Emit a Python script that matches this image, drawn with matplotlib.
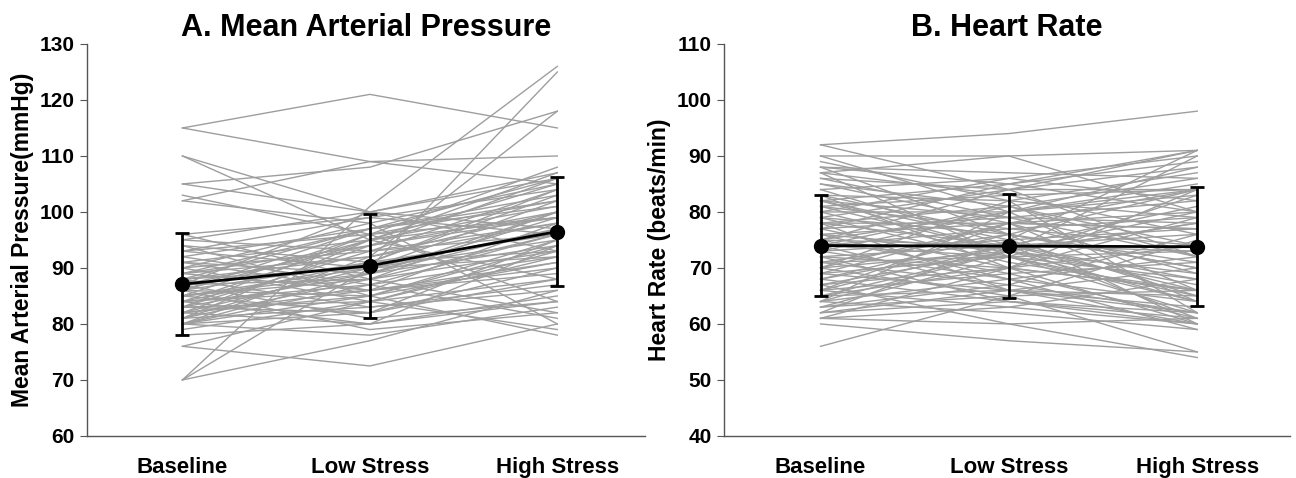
import numpy as np
import matplotlib.pyplot as plt

plt.rcParams['font.family'] = ['Liberation Sans Narrow', 'Liberation Sans', 'DejaVu Sans']
plt.rcParams['font.weight'] = 'bold'

conditions = ["Baseline", "Low Stress", "High Stress"]

# Panel A: individual subjects (baseline, low stress, high stress)
map_subjects = [
    [115, 121, 115], [115, 109, 105], [110, 100, 97], [110, 95, 88],
    [105, 108, 118], [105, 100, 93], [103, 96, 84], [102, 109, 110],
    [102, 98, 80], [96, 99, 104], [96, 88, 82], [70, 101, 126],
    [70, 90, 125], [70, 77, 86], [76, 72.5, 80], [76, 84, 93],
    [78, 80, 94], [80, 92, 118], [80, 85, 95], [80, 82, 90],
    [80, 78, 83], [81, 88, 100], [81, 95, 107], [82, 86, 98],
    [82, 90, 102], [83, 84, 92], [83, 93, 104], [84, 87, 96],
    [84, 80, 85], [85, 96, 108], [85, 89, 100], [85, 82, 88],
    [86, 91, 103], [86, 85, 94], [87, 94, 99], [87, 88, 96],
    [88, 97, 106], [88, 83, 86], [89, 92, 98], [89, 86, 91],
    [90, 98, 105], [90, 84, 79], [91, 95, 101], [91, 89, 94],
    [92, 97, 102], [92, 87, 81], [93, 90, 97], [93, 96, 99],
    [94, 91, 93], [94, 85, 78], [95, 100, 107], [95, 93, 96],
    [82, 94, 100], [83, 89, 97], [84, 91, 104], [80, 87, 92],
    [81, 83, 87], [86, 95, 105], [87, 81, 84], [88, 92, 100],
    [89, 97, 103], [84, 86, 89], [85, 90, 95], [86, 79, 82],
    [90, 93, 98], [82, 80, 84], [83, 96, 102], [79, 84, 88],
    [80, 89, 99], [85, 88, 93], [87, 100, 106], [91, 86, 90],
    [93, 99, 96], [81, 91, 96], [88, 90, 92], [84, 95, 99],
    [86, 97, 101], [82, 85, 91], [89, 94, 106], [83, 82, 95],
]
map_mean = [87.1, 90.4, 96.5]
map_sd = [9.1, 9.3, 9.8]

# Panel B: individual subjects
hr_subjects = [
    [92, 94, 98], [92, 84, 72], [90, 90, 91], [90, 80, 66], [89, 82, 62],
    [88, 87, 86], [88, 76, 60], [88, 85, 91], [87, 90, 80], [87, 72, 64],
    [86, 84, 84], [85, 78, 69], [84, 86, 90], [84, 74, 61], [83, 82, 79],
    [83, 70, 66], [82, 85, 89], [82, 79, 72], [82, 75, 65], [81, 83, 84],
    [81, 77, 74], [80, 80, 83], [80, 72, 62], [79, 84, 88], [79, 76, 70],
    [78, 74, 68], [78, 81, 86], [77, 70, 60], [77, 79, 82], [76, 73, 67],
    [76, 78, 80], [75, 74, 73], [75, 69, 61], [75, 80, 85], [74, 72, 65],
    [74, 77, 79], [73, 75, 77], [73, 68, 59], [72, 74, 76], [72, 70, 66],
    [71, 76, 84], [71, 67, 62], [70, 73, 78], [70, 65, 55], [69, 72, 73],
    [69, 66, 60], [68, 74, 81], [68, 64, 61], [67, 70, 74], [67, 73, 90],
    [66, 69, 71], [66, 63, 60], [65, 70, 79], [65, 66, 65], [64, 68, 72],
    [64, 62, 59], [63, 67, 76], [63, 65, 66], [62, 66, 70], [62, 64, 62],
    [61, 60, 54], [61, 63, 68], [60, 57, 55], [56, 65, 75], [61, 70, 84],
    [62, 75, 91], [64, 80, 88], [65, 73, 80], [66, 78, 84], [67, 60, 61],
    [68, 76, 70], [70, 82, 87], [72, 64, 60], [73, 80, 84], [74, 66, 62],
    [76, 68, 64], [77, 85, 80], [79, 71, 66], [80, 86, 82], [81, 73, 69],
    [83, 76, 71], [85, 81, 74], [86, 79, 78], [87, 83, 76], [78, 66, 63],
    [69, 78, 77], [71, 72, 68], [63, 72, 83], [75, 84, 91], [82, 73, 78],
    [66, 74, 66], [70, 78, 64], [74, 81, 72], [78, 78, 77], [64, 73, 64],
]
hr_mean = [74.0, 73.9, 73.8]
hr_sd = [9.0, 9.3, 10.6]

fig = plt.figure(figsize=(12.96, 4.78), dpi=100)
ax1 = fig.add_axes([0.067, 0.088, 0.431, 0.82])
ax2 = fig.add_axes([0.559, 0.088, 0.436, 0.82])

x = np.arange(len(conditions))

def draw_panel(ax, subjects, mean, sd, title, ylabel, ylim, xlim):
    for s in subjects:
        ax.plot(x, s, color='#9e9e9e', lw=1.0, zorder=1)
    ax.errorbar(x, mean, yerr=sd, color='black', lw=2, marker='o',
                markersize=10, capsize=5, capthick=2, elinewidth=2, zorder=3)
    ax.set_ylim(ylim)
    ax.set_xlim(xlim)
    ax.set_yticks(np.arange(ylim[0], ylim[1] + 1, 10))
    ax.set_xticks(x)
    ax.set_xticklabels(conditions)
    ax.spines['top'].set_visible(False)
    ax.spines['right'].set_visible(False)
    for sp in ['left', 'bottom']:
        ax.spines[sp].set_color('#555555')
        ax.spines[sp].set_linewidth(1.0)
    ax.tick_params(axis='y', length=5, color='#555555', labelsize=15, pad=4)
    ax.tick_params(axis='x', length=0, labelsize=16, pad=15)
    ax.set_title(title, fontsize=22, fontweight='bold', pad=6)
    ax.set_ylabel(ylabel, fontsize=16.5, fontweight='bold', labelpad=4)

draw_panel(ax1, map_subjects, map_mean, map_sd, "A. Mean Arterial Pressure",
           "Mean Arterial Pressure(mmHg)", (60, 130), (-0.51, 2.47))
draw_panel(ax2, hr_subjects, hr_mean, hr_sd, "B. Heart Rate",
           "Heart Rate (beats/min)", (40, 110), (-0.51, 2.49))

fig.savefig("out.png", dpi=100)
